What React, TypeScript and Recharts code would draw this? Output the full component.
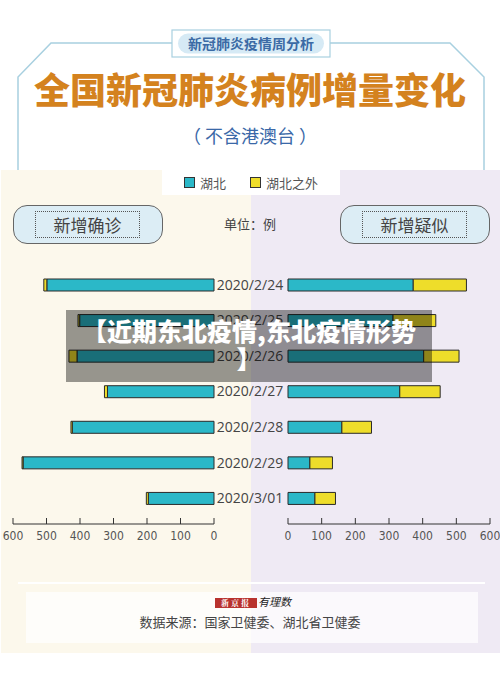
import { Bar, BarChart, XAxis, YAxis } from "recharts";

const dates = [
  "2020/2/24",
  "2020/2/25",
  "2020/2/26",
  "2020/2/27",
  "2020/2/28",
  "2020/2/29",
  "2020/3/01",
];
const confirmedHubei = [499, 401, 409, 318, 423, 570, 196];
const confirmedOutside = [9, 5, 24, 9, 4, 3, 6];
const suspectedHubei = [372, 312, 403, 332, 160, 65, 80];
const suspectedOutside = [158, 127, 105, 120, 88, 67, 61];
const axisTicks = [0, 100, 200, 300, 400, 500, 600];
const seriesNames = ["湖北", "湖北之外"];

const CYAN = "#2bb8c8";
const YELLOW = "#eedd2a";
const FONT = "'Noto Sans CJK SC', 'Noto Sans', sans-serif";
const NARROW = "'Liberation Sans Narrow', 'DejaVu Sans Condensed', sans-serif";

const confirmedData = dates.map((date, i) => ({
  date,
  hubei: confirmedHubei[i],
  outside: confirmedOutside[i],
}));

const suspectedData = dates.map((date, i) => ({
  date,
  hubei: suspectedHubei[i],
  outside: suspectedOutside[i],
}));

// tick marks point up into the plot, labels sit under the line
function UpTick({ x, y, payload }: any) {
  return (
    <g>
      <line x1={x} y1={y - 6} x2={x} y2={y} stroke="#333" strokeWidth={1} />
      <text
        x={x}
        y={y + 16}
        textAnchor="middle"
        fill="#555"
        fontSize={12}
        fontFamily={NARROW}
      >
        {payload.value}
      </text>
    </g>
  );
}

function LabelBox({ left, text }: { left: number; text: string }) {
  return (
    <div
      style={{
        position: "absolute",
        left,
        top: 205,
        width: 150,
        height: 39,
        boxSizing: "border-box",
        background: "#dcedf5",
        border: "1px solid #666",
        borderRadius: 14,
      }}
    >
      <div
        style={{
          position: "absolute",
          left: 21,
          top: 5,
          width: 105,
          height: 27,
          boxSizing: "border-box",
          border: "1px dotted #555",
          display: "flex",
          alignItems: "center",
          justifyContent: "center",
          fontSize: 17,
          color: "#444",
          fontFamily: FONT,
        }}
      >
        {text}
      </div>
    </div>
  );
}

export default function App() {
  return (
    <div
      style={{
        position: "absolute",
        left: 0,
        top: 0,
        width: 500,
        height: 692,
        background: "#fff",
        overflow: "hidden",
        fontFamily: FONT,
      }}
    >
      {/* header frame */}
      <svg
        width={500}
        height={175}
        style={{ position: "absolute", left: 0, top: 0 }}
      >
        <polyline
          points="18,172 18,77 51,43 172,43"
          fill="none"
          stroke="#a8d0e0"
          strokeWidth={1.5}
        />
        <polyline
          points="330,43 450,43 484,77 484,172"
          fill="none"
          stroke="#a8d0e0"
          strokeWidth={1.5}
        />
        <rect
          x={172}
          y={30}
          width={158}
          height={27}
          fill="#fff"
          stroke="#a8d0e0"
          strokeWidth={1.2}
        />
        <rect x={178} y={33.5} width={146} height={20} rx={10} fill="#d6eaf5" />
      </svg>
      <div
        style={{
          position: "absolute",
          left: 172,
          top: 30,
          width: 158,
          height: 27,
          lineHeight: "27px",
          textAlign: "center",
          fontSize: 14,
          fontWeight: 700,
          color: "#3b6aa5",
        }}
      >
        新冠肺炎疫情周分析
      </div>
      <div
        style={{
          position: "absolute",
          left: 0,
          top: 65,
          width: 500,
          textAlign: "center",
          fontSize: 36,
          lineHeight: "46px",
          fontWeight: 900,
          color: "#d4821e",
        }}
      >
        全国新冠肺炎病例增量变化
      </div>
      <div
        style={{
          position: "absolute",
          left: 0,
          top: 122,
          width: 500,
          textAlign: "center",
          fontSize: 18,
          lineHeight: "26px",
          color: "#3a68a8",
        }}
      >
        （ 不含港澳台 ）
      </div>

      {/* panel backgrounds */}
      <div
        style={{
          position: "absolute",
          left: 1,
          top: 170,
          width: 250,
          height: 483,
          background: "#fcf8ec",
        }}
      />
      <div
        style={{
          position: "absolute",
          left: 251,
          top: 170,
          width: 249,
          height: 483,
          background: "#efeaf4",
        }}
      />

      {/* legend */}
      <div
        style={{
          position: "absolute",
          left: 162,
          top: 170,
          width: 178,
          height: 25,
          background: "#fff",
          display: "flex",
          alignItems: "center",
          justifyContent: "center",
          gap: 24,
          fontSize: 13,
          color: "#555",
        }}
      >
        {seriesNames.map((name, i) => (
          <div key={name} style={{ display: "flex", alignItems: "center", gap: 5 }}>
            <span
              style={{
                width: 9,
                height: 9,
                background: i === 0 ? CYAN : YELLOW,
                border: "1px solid #333",
              }}
            />
            <span>{name}</span>
          </div>
        ))}
      </div>

      <LabelBox left={13} text="新增确诊" />
      <LabelBox left={340} text="新增疑似" />
      <div
        style={{
          position: "absolute",
          left: 200,
          top: 214,
          width: 100,
          textAlign: "center",
          fontSize: 13,
          lineHeight: "20px",
          color: "#444",
        }}
      >
        单位：例
      </div>

      {/* 新增确诊 */}
      <div style={{ position: "absolute", left: 0, top: 250 }}>
        <BarChart
          width={300}
          height={310}
          data={confirmedData}
          layout="vertical"
          margin={{ top: 17, right: 0, left: 13, bottom: 0 }}
          barSize={12}
        >
          <XAxis
            type="number"
            domain={[0, 600]}
            ticks={axisTicks}
            reversed
            height={36}
            axisLine={{ stroke: "#333" }}
            tickLine={false}
            tickSize={0}
            tickMargin={0}
            tick={<UpTick />}
            interval={0}
          />
          <YAxis
            type="category"
            dataKey="date"
            orientation="right"
            width={86}
            padding={{ top: 0, bottom: 8 }}
            axisLine={false}
            tickLine={false}
            tickSize={0}
            tickMargin={36}
            interval={0}
            tick={{
              fill: "#444",
              fontSize: 14,
              fontFamily: "'Open Sans', 'Noto Sans', sans-serif",
              textAnchor: "middle",
            }}
          />
          <Bar
            dataKey="hubei"
            name={seriesNames[0]}
            stackId="a"
            fill={CYAN}
            stroke="#2a2a2a"
            strokeWidth={1}
            isAnimationActive={false}
          />
          <Bar
            dataKey="outside"
            name={seriesNames[1]}
            stackId="a"
            fill={YELLOW}
            stroke="#2a2a2a"
            strokeWidth={1}
            isAnimationActive={false}
          />
        </BarChart>
      </div>

      {/* 新增疑似 */}
      <div style={{ position: "absolute", left: 250, top: 250 }}>
        <BarChart
          width={250}
          height={310}
          data={suspectedData}
          layout="vertical"
          margin={{ top: 17, right: 10, left: 38, bottom: 0 }}
          barSize={12}
        >
          <XAxis
            type="number"
            domain={[0, 600]}
            ticks={axisTicks}
            height={36}
            axisLine={{ stroke: "#333" }}
            tickLine={false}
            tickSize={0}
            tickMargin={0}
            tick={<UpTick />}
            interval={0}
          />
          <YAxis
            type="category"
            dataKey="date"
            hide
            padding={{ top: 0, bottom: 8 }}
          />
          <Bar
            dataKey="hubei"
            name={seriesNames[0]}
            stackId="a"
            fill={CYAN}
            stroke="#2a2a2a"
            strokeWidth={1}
            isAnimationActive={false}
          />
          <Bar
            dataKey="outside"
            name={seriesNames[1]}
            stackId="a"
            fill={YELLOW}
            stroke="#2a2a2a"
            strokeWidth={1}
            isAnimationActive={false}
          />
        </BarChart>
      </div>

      {/* footer */}
      <div
        style={{
          position: "absolute",
          left: 18,
          top: 582,
          width: 467,
          height: 2,
          background: "#fff",
        }}
      />
      <div
        style={{
          position: "absolute",
          left: 26,
          top: 592,
          width: 452,
          height: 51,
          background: "rgba(255,255,255,0.72)",
        }}
      />
      <div
        style={{
          position: "absolute",
          left: 215,
          top: 598,
          width: 42,
          height: 10,
          background: "#b8322e",
          color: "#fff",
          fontSize: 8,
          lineHeight: "10px",
          fontWeight: 700,
          textAlign: "center",
          fontFamily: "'Noto Serif CJK SC', 'Noto Sans CJK SC', serif",
          letterSpacing: 2,
        }}
      >
        新京报
      </div>
      <div
        style={{
          position: "absolute",
          left: 258,
          top: 594,
          fontSize: 11,
          lineHeight: "14px",
          fontStyle: "italic",
          color: "#222",
        }}
      >
        有理数
      </div>
      <div
        style={{
          position: "absolute",
          left: 0,
          top: 612,
          width: 500,
          textAlign: "center",
          fontSize: 13,
          lineHeight: "20px",
          color: "#444",
        }}
      >
        数据来源：国家卫健委、湖北省卫健委
      </div>

      {/* overlay caption */}
      <div
        style={{
          position: "absolute",
          left: 66,
          top: 310,
          width: 366,
          height: 72,
          background: "rgba(0,0,0,0.4)",
          color: "#fff",
          fontSize: 25,
          fontWeight: 900,
          lineHeight: "28px",
          textAlign: "center",
          paddingTop: 6,
          boxSizing: "border-box",
        }}
      >
        【近期东北疫情,东北疫情形势
        <br />】
      </div>
    </div>
  );
}
